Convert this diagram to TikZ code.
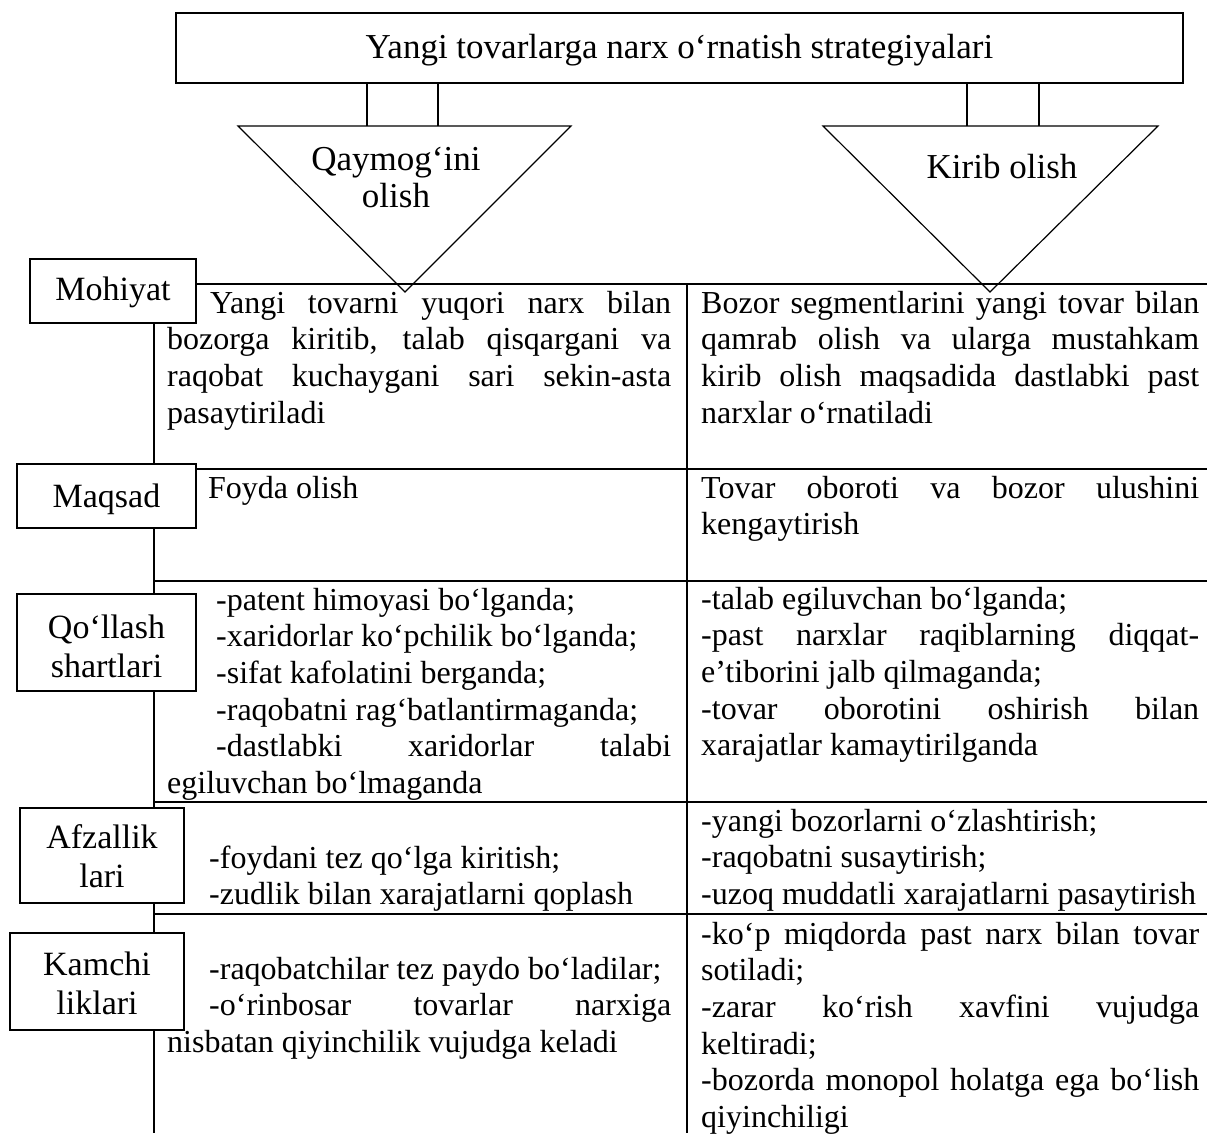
\documentclass[tikz,border=0pt]{standalone}
\usepackage{fontspec}
\setmainfont{Liberation Serif}
\hyphenpenalty=10000
\exhyphenpenalty=10000
\tolerance=10000
\hbadness=10000
\begin{document}
\begin{tikzpicture}[x=1pt,y=-1pt,
  rule/.style={line width=1.7pt},
  thinrule/.style={line width=1.2pt},
  headfont/.style={font=\fontsize{35pt}{37pt}\selectfont},
  bodyfont/.style={font=\fontsize{32pt}{36.7pt}\selectfont},
  cell/.style={bodyfont, inner sep=0pt, anchor=base west, align=justify, text width=#1},
  leftcell/.style={cell=504pt},
  rightcell/.style={cell=498pt},
  tag/.style={draw, line width=1.5pt, fill=white, inner sep=0pt,
    font=\fontsize{34pt}{39pt}\selectfont, align=center, text width=160pt,
    text height=30pt, text depth=#1},
]
\useasboundingbox (0,0) rectangle (1207,1133);

% table grid
\draw[rule] (154,284) -- (1207,284);
\draw[rule] (154,469) -- (1207,469);
\draw[rule] (154,581) -- (1207,581);
\draw[rule] (154,802) -- (1207,802);
\draw[rule] (154,914) -- (1207,914);
\draw[rule] (154,284) -- (154,1133);
\draw[rule] (687,284) -- (687,1133);

% title
\node[draw, line width=1.5pt, minimum width=1007pt, minimum height=70pt, inner sep=0pt,
  headfont, text height=30pt, text depth=10pt] (title) at (679.5,48)
  {Yangi tovarlarga narx o‘rnatish strategiyalari};

% strategy triangles
\coordinate (q1) at (238,126);
\coordinate (q2) at (571,126);
\coordinate (q3) at (405,292);
\coordinate (k1) at (823,126);
\coordinate (k2) at (1158,126);
\coordinate (k3) at (990,292);
\draw[thinrule, line join=miter] (q1) -- (q2) -- (q3) -- cycle;
\draw[thinrule, line join=miter] (k1) -- (k2) -- (k3) -- cycle;

\coordinate (qa) at (367,126);
\coordinate (qb) at (438,126);
\coordinate (ka) at (967,126);
\coordinate (kb) at (1039,126);
\draw[thinrule] (title.south -| qa) -- (qa);
\draw[thinrule] (title.south -| qb) -- (qb);
\draw[thinrule] (title.south -| ka) -- (ka);
\draw[thinrule] (title.south -| kb) -- (kb);

\node[headfont, align=center, text width=250pt, inner sep=0pt, anchor=base] (qtext) at (396,170) {Qaymog‘ini\\olish};
\node[headfont, inner sep=0pt, anchor=base] (ktext) at (1002,178) {Kirib olish};

% row labels
\node[tag=12pt, minimum width=166pt, minimum height=64pt] (mohiyat) at (113,291) {Mohiyat};
\node[tag=8pt, minimum width=179pt, minimum height=64pt] (maqsad) at (106.5,496) {Maqsad};
\node[tag=39pt, minimum width=179pt, minimum height=97pt] (qollash) at (106.5,642.5) {Qo‘llash\\shartlari};
\node[tag=45pt, minimum width=164pt, minimum height=95pt] (afzal) at (102,855.5) {Afzallik\\lari};
\node[tag=43pt, minimum width=174pt, minimum height=97pt] (kamchi) at (97,981.5) {Kamchi\\liklari};

% cells
\node[leftcell] (mohL) at (167,313) {\hspace*{43pt}Yangi tovarni yuqori narx bilan\linebreak bozorga kiritib, talab qisqargani va\linebreak raqobat kuchaygani sari sekin-asta\linebreak pasaytiriladi};
\node[rightcell] (mohR) at (701,313) {Bozor segmentlarini yangi tovar bilan\linebreak qamrab olish va ularga mustahkam\linebreak kirib olish maqsadida dastlabki past\linebreak narxlar o‘rnatiladi};

\node[leftcell] (maqL) at (167,498) {\hspace*{41pt}Foyda olish};
\node[rightcell] (maqR) at (701,498) {Tovar oboroti va bozor ulushini\linebreak kengaytirish};

\node[leftcell] (qolL) at (167,610) {\hspace*{49pt}-patent himoyasi bo‘lganda;\\\hspace*{49pt}-xaridorlar ko‘pchilik bo‘lganda;\\\hspace*{49pt}-sifat kafolatini berganda;\\\hspace*{49pt}-raqobatni rag‘batlantirmaganda;\\\hspace*{49pt}-dastlabki xaridorlar talabi\linebreak egiluvchan bo‘lmaganda};
\node[rightcell] (qolR) at (701,609) {-talab egiluvchan bo‘lganda;\\-past narxlar raqiblarning diqqat-\linebreak e’tiborini jalb qilmaganda;\\-tovar oborotini oshirish bilan\linebreak xarajatlar kamaytirilganda};

\node[leftcell] (afzL) at (167,868) {\hspace*{42pt}-foydani tez qo‘lga kiritish;\\\hspace*{42pt}-zudlik bilan xarajatlarni qoplash};
\node[rightcell] (afzR) at (701,831) {-yangi bozorlarni o‘zlashtirish;\\-raqobatni susaytirish;\\-uzoq muddatli xarajatlarni pasaytirish};

\node[leftcell] (kamL) at (167,979) {\hspace*{42pt}-raqobatchilar tez paydo bo‘ladilar;\\\hspace*{42pt}-o‘rinbosar tovarlar narxiga\linebreak nisbatan qiyinchilik vujudga keladi};
\node[rightcell] (kamR) at (701,944) {-ko‘p miqdorda past narx bilan tovar\linebreak sotiladi;\\-zarar ko‘rish xavfini vujudga\linebreak keltiradi;\\-bozorda monopol holatga ega bo‘lish\linebreak qiyinchiligi};
\end{tikzpicture}
\end{document}
